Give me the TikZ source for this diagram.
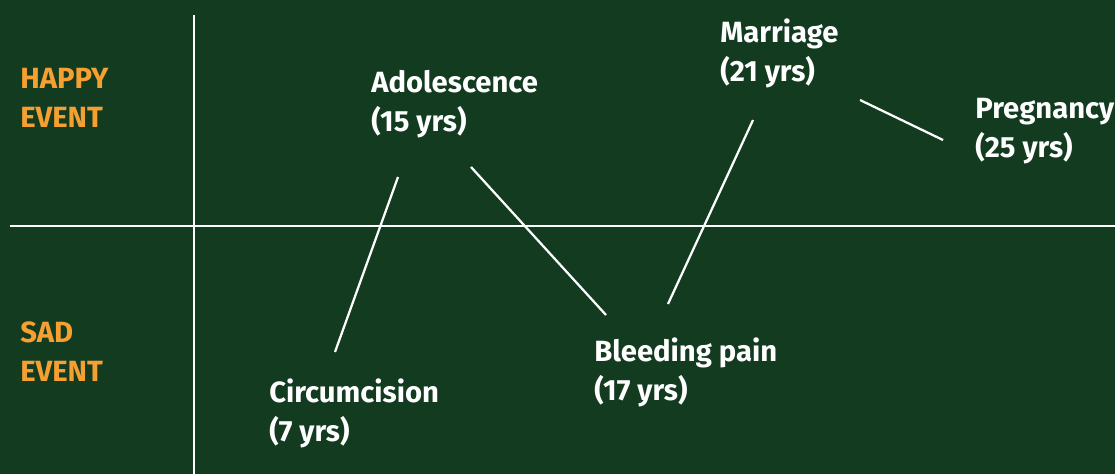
\documentclass[tikz,border=0pt]{standalone}
\usepackage{fontspec}
\setmainfont{Fira Sans}
\usepackage{tikz}
\usetikzlibrary{calc}
\definecolor{board}{RGB}{18,59,32}
\definecolor{eventorange}{RGB}{246,160,50}

\begin{document}
\begin{tikzpicture}[x=0.025cm,y=-0.025cm,
    lifelabel/.style={anchor=base west,inner sep=0pt,align=left,text=white,font=\bfseries\fontsize{20.8}{27.5}\selectfont},
    kindlabel/.style={lifelabel,text=eventorange},
    link/.style={draw=white,line width=1.6pt}]
            \fill[board] (0,0) rectangle (1115,474);
            \useasboundingbox (0,0) rectangle (1115,474);

            \draw[link] (194,15) to (194,474);
            \draw[link] (10,226) to (1115,226);

            \node[kindlabel] (happy) at (20,127) {HAPPY\\EVENT};
            \node[kindlabel] (sad) at (20,381) {SAD\\EVENT};

            \node[lifelabel] (adol) at (371,131) {Adolescence\\(15 yrs)};
            \node[lifelabel] (marr) at (720,81) {Marriage\\(21 yrs)};
            \node[lifelabel] (preg) at (975,157) {Pregnancy\\(25 yrs)};
            \node[lifelabel] (bleed) at (594,400) {Bleeding pain\\(17 yrs)};
            \node[lifelabel] (circ) at (269,441) {Circumcision\\(7 yrs)};

            \coordinate (circ-up) at (335,352);
            \coordinate (adol-dl) at (398,177);
            \coordinate (adol-dr) at (471,167);
            \coordinate (bleed-ul) at (606,315);
            \coordinate (bleed-ur) at (668,304);
            \coordinate (marr-dl) at (753,120);
            \coordinate (marr-dr) at (860,100);
            \coordinate (preg-ul) at (943,140);

            \draw[link] (circ-up) to (adol-dl);
            \draw[link] (adol-dr) to (bleed-ul);
            \draw[link] (bleed-ur) to (marr-dl);
            \draw[link] (marr-dr) to (preg-ul);
        \end{tikzpicture}
\end{document}
